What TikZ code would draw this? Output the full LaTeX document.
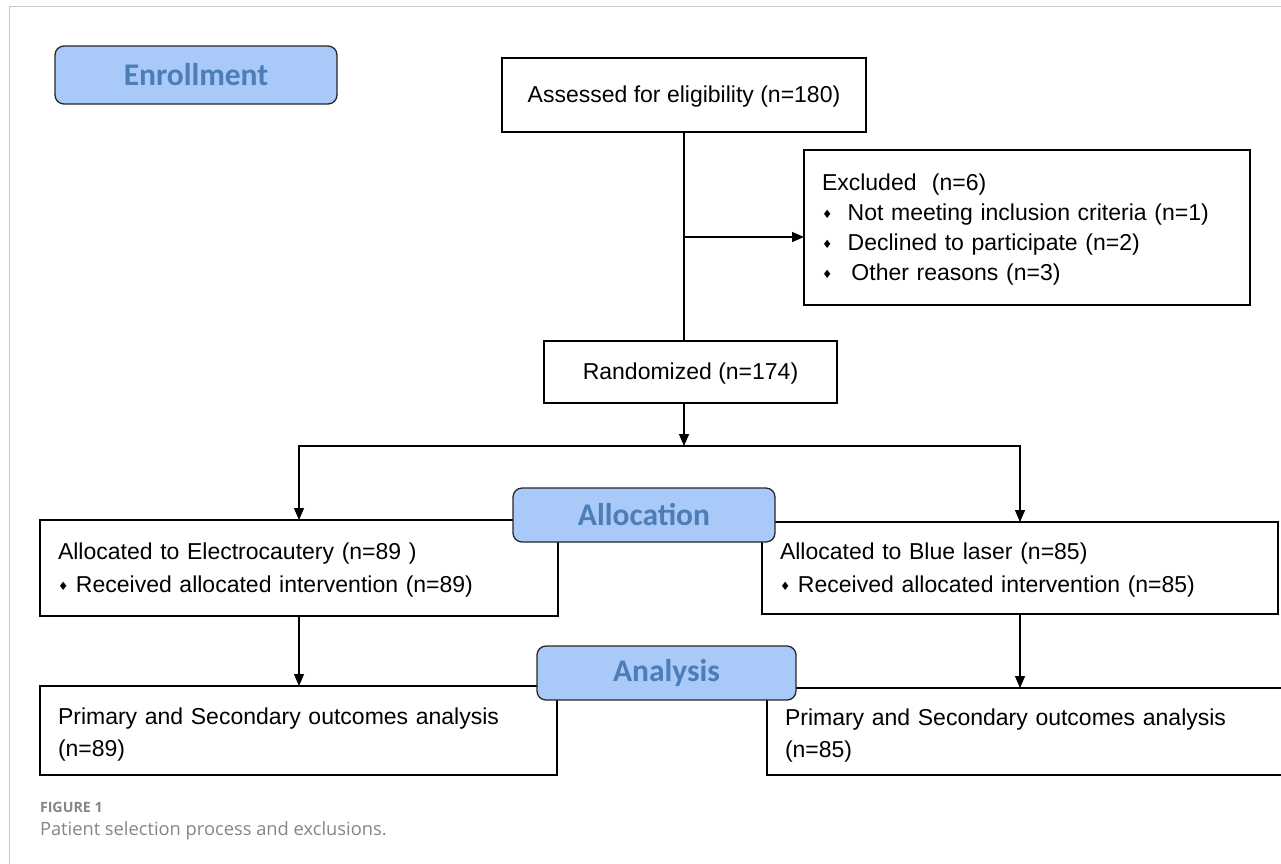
\documentclass[tikz,border=0pt]{standalone}
\usepackage{fontspec}
\setmainfont{Liberation Sans}
\newfontfamily\calfont{Carlito}
\newfontfamily\capfont{Open Sans}
\newfontfamily\symfont{DejaVu Sans}
\usetikzlibrary{arrows.meta}
\definecolor{hdrfill}{HTML}{A9C9F9}
\definecolor{hdrtext}{HTML}{4D7DB6}
\definecolor{framegray}{HTML}{C8C8C8}
\definecolor{capgray}{HTML}{858585}
\newcommand{\dmd}{{\raisebox{0.2ex}{\symfont\fontsize{11.5}{11.5}\selectfont ♦}}}
\begin{document}
\begin{tikzpicture}[x=1pt,y=-1pt,
  every node/.style={inner sep=0pt, outer sep=0pt},
  box/.style={draw=black, line width=1.3pt},
  txt/.style={font=\fontsize{23}{30}\selectfont},
  ltxt/.style={txt, align=left},
  hdr/.style={draw=black!85, line width=1.3pt, fill=hdrfill, rounded corners=9pt,
     text=hdrtext, font=\calfont\bfseries\fontsize{31.5}{31.5}\selectfont},
  arr/.style={line width=1.3pt, -{Triangle[length=12pt,width=10pt]}},
  ln/.style={line width=1.3pt}]
\useasboundingbox (0,0) rectangle (1281,863);
\clip (0,0) rectangle (1281,863);
% frame
\draw[framegray, line width=1pt] (9,870) -- (9,6) -- (1290,6);
% header box
\node[hdr, minimum width=282pt, minimum height=58pt] (enr) at (196,75) {Enrollment};
% flow boxes
\node[box, minimum width=364pt, minimum height=74pt] (assess) at (684,95) {};
\node[txt] (assessT) at ([yshift=-2pt]assess.center) {Assessed for eligibility (n=180)};
\node[box, minimum width=446pt, minimum height=155pt] (excl) at (1027,227.5) {};
\node[ltxt, text width=410pt] (exclT) at ([yshift=-2.2pt]excl.center)
  {Excluded\ \ (n=6)\\
   \dmd\ \ Not meeting inclusion criteria (n=1)\\
   \dmd\ \ Declined to participate (n=2)\\
   \dmd\ \ \,Other reasons (n=3)};
\node[box, minimum width=293pt, minimum height=62pt] (rand) at (690.5,372) {};
\node[txt] (randT) at ([yshift=-2pt]rand.center) {Randomized (n=174)};
\coordinate (j1) at (684,237);
\coordinate (split) at (684,446);
\node[box, minimum width=518pt, minimum height=96pt] (allocL) at (299,568) {};
\node[ltxt, text width=482pt, font=\fontsize{23}{33}\selectfont] (allocLT) at ([yshift=-2pt]allocL.center)
  {Allocated to Electrocautery (n=89 )\\ \dmd\ Received allocated intervention (n=89)};
\node[box, minimum width=516pt, minimum height=92pt] (allocR) at (1020,568) {};
\node[ltxt, text width=480pt, font=\fontsize{23}{33}\selectfont] (allocRT) at ([yshift=-2pt]allocR.center)
  {Allocated to Blue laser (n=85)\\ \dmd\ Received allocated intervention (n=85)};
\node[box, minimum width=517pt, minimum height=89pt] (anaL) at (298.5,730.5) {};
\node[ltxt, text width=481pt, font=\fontsize{23}{32}\selectfont] (anaLT) at ([yshift=-4.5pt]anaL.center)
  {Primary and Secondary outcomes analysis\\(n=89)};
\node[box, minimum width=576pt, minimum height=87pt] (anaR) at (1055,731.5) {};
\node[ltxt, text width=540pt, font=\fontsize{23}{32}\selectfont] (anaRT) at ([yshift=-4.5pt]anaR.center)
  {Primary and Secondary outcomes analysis\\(n=85)};
% connectors
\draw[ln] (assess.south) -- (rand.north -| assess.south);
\draw[arr] (j1) -- (j1 -| excl.west);
\draw[arr] (rand.south -| split) -- (split);
\draw[arr] (split) -| (allocL.north);
\draw[arr] (split) -| (allocR.north);
\draw[arr] (allocL.south) -- (anaL.north -| allocL.south);
\draw[arr] (allocR.south) -- (anaR.north -| allocR.south);
% header boxes on top of the flow boxes
\node[hdr, minimum width=262pt, minimum height=54pt] (alloc) at (644,515) {Allocation};
\node[hdr, minimum width=259pt, minimum height=54pt] (ana) at (666.5,673) {Analysis};
% caption
\node[anchor=base west, text=capgray, font=\capfont\bfseries\fontsize{14.2}{15}\selectfont] (figlab) at (40,812) {FIGURE 1};
\node[anchor=base west, text=capgray, font=\capfont\fontsize{18.3}{19}\selectfont] (cap) at (40,835) {Patient selection process and exclusions.};
\end{tikzpicture}
\end{document}
